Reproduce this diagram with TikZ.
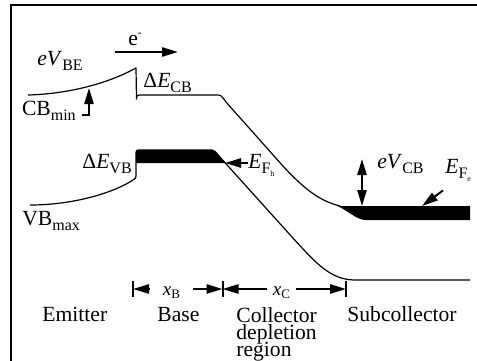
\documentclass[tikz,border=0pt]{standalone}
\usepackage{fontspec}
\setmainfont{Liberation Serif}
\usetikzlibrary{arrows.meta,calc}
\newcommand{\lsub}[1]{\raisebox{-2.6pt}{\fontsize{8}{8}\selectfont #1}}
\newcommand{\ssub}[1]{\raisebox{-1.6pt}{\fontsize{6.5}{6.5}\selectfont #1}}
\newcommand{\tsub}[1]{\raisebox{-1.4pt}{\fontsize{4}{4}\selectfont #1}}
\newcommand{\tightlines}{\fontsize{10.8}{8.6}\selectfont\lineskiplimit=-100pt\relax}

\begin{document}
\begin{tikzpicture}[
    x=0.5pt, y=-0.5pt,
    font=\fontsize{10.8}{12}\selectfont,
    lbl/.style={inner sep=0pt, anchor=base west},
    band/.style={line width=0.6pt, line join=round},
    arr/.style={-{Triangle[length=8pt,width=4.6pt]}, line width=1pt},
    dbl/.style={{Triangle[length=8pt,width=4.6pt]}-{Triangle[length=8pt,width=4.6pt]}, line width=1pt},
    tick/.style={line width=1pt}
  ]
  \useasboundingbox (0,0) rectangle (477,360);
  % frame
  \draw[line width=1pt] (11,362) -- (11,5) -- (479,5);

  % conduction band
  \draw[band] (28,95) .. controls (65,94) and (105,85) .. (136,68) -- (136.5,99)
    .. controls (137,95) .. (143,95) -- (216,95) .. controls (221,95) .. (226,102)
    -- (282,165) .. controls (305,190) and (320,201) .. (340,206);
  % filled states in the base
  \fill (136,163) -- (136,155) .. controls (136,150) .. (141,150) -- (212,150)
    .. controls (215,151) .. (219,156) -- (225.5,163) -- cycle;
  % valence band
  \draw[band] (30,205) .. controls (75,205) and (115,192) .. (133,180)
    .. controls (136,178) .. (136,174) -- (136,155) .. controls (136,150) .. (141,150)
    -- (212,150) .. controls (215,151) .. (219,156) -- (292,237)
    .. controls (315,262) and (330,280) .. (355,280) -- (470,280);
  % filled states in the subcollector
  \fill (338,206) -- (470,206) -- (470,220) -- (366,220)
    .. controls (358,220) and (352,214) .. (338,206) -- cycle;

  % electron
  \node[lbl] (el) at (128,45) {e\raisebox{0.9ex}{\fontsize{6}{6}\selectfont -}};
  \coordinate (elstart) at (115,52);
  \coordinate (elend) at (178,52);
  \draw[arr] (elstart) -- (elend);

  \node[lbl] (vbe) at (37,65) {\textit{eV}\lsub{BE}};
  \node[lbl] (dcb) at (143,87) {Δ\textit{E}\lsub{CB}};
  \node[lbl, outer xsep=3pt] (cbmin) at (16,115) {CB\lsub{min}};
  \coordinate (cbminbend) at (89,115);
  \coordinate (cbmintip) at (89,88);
  \draw[arr] (cbmin.east |- cbminbend) -- (cbminbend) -- (cbmintip);

  \node[lbl] (dvb) at (82,168) {Δ\textit{E}\lsub{VB}};
  \node[lbl] (vbmax) at (22,225) {VB\lsub{max}};

  \node[lbl] (efh) at (248,168) {\textit{E}\lsub{F\tsub{h}}};
  \coordinate (efhtip) at (225,163);
  \draw[arr] (efh.west |- efhtip) -- (efhtip);

  \node[lbl] (vcb) at (377,168) {\textit{eV}\lsub{CB}};
  \coordinate (vcbtop) at (362,159);
  \coordinate (vcbbot) at (362,206);
  \draw[dbl] (vcbtop) -- (vcbbot);

  \node[lbl] (efe) at (445,173) {\textit{E}\lsub{F\tsub{e}}};
  \coordinate (efetip) at (422,206);
  \draw[arr] ([shift={(-2,9)}]efe.south west) -- (efetip);

  % widths
  \coordinate (tb) at (133,289);
  \coordinate (tbc) at (222.5,289);
  \coordinate (tc) at (346,289);
  \foreach \t in {tb,tbc,tc}
    \draw[tick] ($(\t)+(0,-8)$) -- ($(\t)+(0,8)$);
  \node[inner sep=0pt, outer xsep=6.5pt, font=\fontsize{9.6}{10}\selectfont] (xb) at (171.5,293) {\textit{x}\ssub{B}};
  \node[inner sep=0pt, outer xsep=3pt, font=\fontsize{9.6}{10}\selectfont] (xc) at (281.5,293) {\textit{x}\ssub{C}};
  \draw[arr] (xb.west |- tb) -- (tb);
  \draw[arr] (xb.east |- tb) -- (tbc);
  \draw[arr] (xc.west |- tb) -- (tbc);
  \draw[arr] (xc.east |- tb) -- (tc);

  % regions
  \node[lbl] (emit) at (42,321) {Emitter};
  \node[lbl] (base) at (157,321) {Base};
  \node[lbl, anchor=north west, align=left, font=\tightlines] (coll) at (236,307) {Collector\\depletion\\region};
  \node[lbl] (subc) at (347,321) {Subcollector};
\end{tikzpicture}
\end{document}
